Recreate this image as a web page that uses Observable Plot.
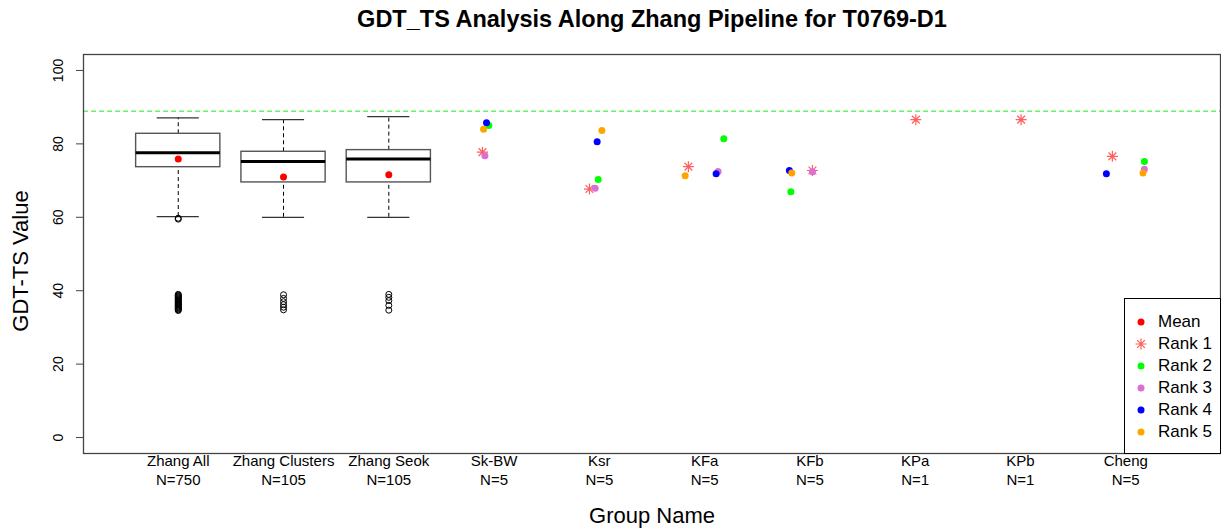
<!DOCTYPE html>
<html>
<head>
<meta charset="utf-8">
<script src="https://cdn.jsdelivr.net/npm/d3@7"></script>
<script src="https://cdn.jsdelivr.net/npm/@observablehq/plot@0.6"></script>
<style>
  body { margin: 0; background: #fff; font-family: "Liberation Sans", Arial, sans-serif; }
  #chart { position: relative; width: 1221px; height: 529px; }
  .legend { position: absolute; left: 1124px; top: 298px; width: 97px; height: 156px;
            border: 1px solid #000; background: #fff; box-sizing: border-box; }
  .legend .item { position: absolute; left: 0; height: 22px; display: flex; align-items: center; }
  .legend svg { margin-left: 8px; }
  .legend span { margin-left: 9px; font-size: 17px; color: #000; }
</style>
</head>
<body>
<div id="chart"></div>
<script>
// Groups along the pipeline and their sample counts
const groups = ["Zhang All", "Zhang Clusters", "Zhang Seok", "Sk-BW", "Ksr", "KFa", "KFb", "KPa", "KPb", "Cheng"];
const counts = [750, 105, 105, 5, 5, 5, 5, 1, 1, 5];

// Box statistics for the three Zhang groups
const boxQ1 = [73.65, 69.5, 69.5];
const boxMedian = [77.6, 75.2, 75.9];
const boxQ3 = [82.75, 77.85, 78.3];
const whiskerLow = [60.2, 60.0, 60.0];
const whiskerHigh = [87.1, 86.6, 87.4];
const groupMeans = [75.9, 71.0, 71.6];

// Outlying GDT-TS values
const outliersAll = [59.75, 59.5, 39.0, 38.8, 38.6, 38.4, 38.2, 38.0, 37.8, 37.6, 37.4, 37.2, 37.0,
                     36.8, 36.6, 36.4, 36.2, 36.0, 35.8, 35.6, 35.4, 35.2, 35.0, 34.8, 34.6];
const outliersClusters = [38.9, 37.9, 37.0, 36.2, 35.5, 34.8];
const outliersSeok = [39.0, 38.2, 37.3, 36.0, 34.7];

// Top-ranked models of the other groups
const rankGroups = ["Sk-BW", "Ksr", "KFa", "KFb", "KPa", "KPb", "Cheng"];
const rank1 = [77.75, 67.7, 73.8, 72.75, 86.6, 86.6, 76.6];
const rank2 = [85.0, 70.3, 81.4, 66.95, null, null, 75.2];
const rank3 = [76.75, 67.9, 72.5, 72.4, null, null, 73.1];
const rank4 = [85.75, 80.6, 71.85, 72.75, null, null, 71.85];
const rank5 = [84.0, 83.65, 71.3, 72.1, null, null, 72.1];
// horizontal jitter (in group units) applied to each rank's points
const jitter1 = [-0.11, -0.094, -0.154, 0.024, 0.006, 0.006, -0.127];
const jitter2 = [-0.05, -0.011, 0.182, -0.181, 0, 0, 0.177];
const jitter3 = [-0.087, -0.04, 0.128, 0.024, 0, 0, 0.177];
const jitter4 = [-0.072, -0.021, 0.109, -0.195, 0, 0, -0.184];
const jitter5 = [-0.10, 0.024, -0.185, -0.172, 0, 0, 0.164];

// Best GDT-TS reference level
const bestLevel = [88.9];

const yTicks = [0, 20, 40, 60, 80, 100];
const rankNames = ["Rank 1", "Rank 2", "Rank 3", "Rank 4", "Rank 5"];
const rankColors = ["#ff5f5f", "#00ff00", "#da70d6", "#0000ff", "#ffa500"];
const meanColor = "#ff0000";

// ---- derived tables ----
const positions = groups.map((g, i) => i + 1);
const boxes = boxQ1.map((q1, i) => ({
  x: i + 1, q1, med: boxMedian[i], q3: boxQ3[i], lo: whiskerLow[i], hi: whiskerHigh[i], mean: groupMeans[i]
}));
const outliers = [outliersAll, outliersClusters, outliersSeok]
  .flatMap((vals, i) => vals.map(v => ({x: i + 1, y: v})));
const rankValues = [rank1, rank2, rank3, rank4, rank5];
const rankJitter = [jitter1, jitter2, jitter3, jitter4, jitter5];
const rankPoints = rankValues.map((vals, r) => vals
  .map((v, j) => v == null ? null : ({x: groups.indexOf(rankGroups[j]) + 1 + rankJitter[r][j], y: v}))
  .filter(d => d));

// R-style eight-spoke asterisk
const asterisk = {
  draw(ctx, size) {
    const r = Math.sqrt(size / Math.PI), d = r * Math.SQRT1_2;
    ctx.moveTo(-r, 0); ctx.lineTo(r, 0);
    ctx.moveTo(0, -r); ctx.lineTo(0, r);
    ctx.moveTo(-d, -d); ctx.lineTo(d, d);
    ctx.moveTo(-d, d); ctx.lineTo(d, -d);
  }
};

const half = 0.4, cap = 0.2;

const plot = Plot.plot({
  width: 1221,
  height: 529,
  marginTop: 54,
  marginBottom: 76,
  marginLeft: 83,
  marginRight: 1,
  style: {fontFamily: "'Liberation Sans', Arial, sans-serif", fontSize: "15px", color: "#000", background: "#fff"},
  x: {domain: [0.1, 10.9], axis: null},
  y: {domain: [-4.35, 104.35], axis: null},
  marks: [
    Plot.ruleY(bestLevel, {stroke: "#6ef06e", strokeWidth: 1.6, strokeDasharray: "5,3"}),
    // whiskers
    Plot.ruleX(boxes, {x: "x", y1: "q3", y2: "hi", stroke: "#000", strokeDasharray: "4,3"}),
    Plot.ruleX(boxes, {x: "x", y1: "lo", y2: "q1", stroke: "#000", strokeDasharray: "4,3"}),
    Plot.ruleY(boxes, {y: "hi", x1: d => d.x - cap, x2: d => d.x + cap, stroke: "#333", strokeWidth: 1.3}),
    Plot.ruleY(boxes, {y: "lo", x1: d => d.x - cap, x2: d => d.x + cap, stroke: "#333", strokeWidth: 1.3}),
    // boxes and medians
    Plot.rect(boxes, {x1: d => d.x - half, x2: d => d.x + half, y1: "q1", y2: "q3", fill: "#fff", stroke: "#555", strokeWidth: 1.4}),
    Plot.ruleY(boxes, {y: "med", x1: d => d.x - half, x2: d => d.x + half, stroke: "#000", strokeWidth: 3}),
    Plot.dot(outliers, {x: "x", y: "y", r: 3, stroke: "#000", fill: "none", strokeWidth: 1}),
    Plot.dot(boxes, {x: "x", y: "mean", r: 3.5, fill: meanColor, stroke: "none"}),
    // ranked models
    Plot.dot(rankPoints[0], {x: "x", y: "y", r: 5.5, symbol: asterisk, stroke: rankColors[0], fill: "none", strokeWidth: 1.2}),
    ...rankPoints.slice(1).map((pts, i) =>
      Plot.dot(pts, {x: "x", y: "y", r: 3.5, fill: rankColors[i + 1], stroke: "none"})),
    Plot.frame({stroke: "#444", strokeWidth: 1.3}),
    Plot.axisX(positions, {
      tickSize: 0, tickPadding: -1, fontSize: 15, lineHeight: 19 / 15, label: null,
      tickFormat: i => `${groups[i - 1]}\nN=${counts[i - 1]}`
    }),
    Plot.axisY(yTicks, {tickSize: 7, tickPadding: 14, tickRotate: -90, fontSize: 14, label: null, stroke: "#444"}),
    Plot.text(["GDT_TS Analysis Along Zhang Pipeline for T0769-D1"],
      {frameAnchor: "top", dy: -44, fontSize: 23.5, fontWeight: "bold"}),
    Plot.text(["Group Name"], {frameAnchor: "bottom", dy: 69, fontSize: 22}),
    Plot.text(["GDT-TS Value"], {frameAnchor: "left", textAnchor: "middle", dx: -63, dy: 7, rotate: -90, fontSize: 22})
  ]
});

const chart = document.getElementById("chart");
chart.appendChild(plot);

// Legend box in the lower-right corner of the panel
const legend = document.createElement("div");
legend.className = "legend";
const entries = [{name: "Mean", color: meanColor, star: false}]
  .concat(rankNames.map((n, i) => ({name: n, color: rankColors[i], star: i === 0})));
entries.forEach((e, i) => {
  const item = document.createElement("div");
  item.className = "item";
  item.style.top = (12 + i * 21.9) + "px";
  const svg = d3.create("svg").attr("width", 16).attr("height", 16);
  if (e.star) {
    svg.append("path").attr("transform", "translate(8,8)")
      .attr("d", d3.symbol(asterisk, 5.5 * 5.5 * Math.PI)())
      .attr("stroke", e.color).attr("stroke-width", 1.2).attr("fill", "none");
  } else {
    svg.append("circle").attr("cx", 8).attr("cy", 8).attr("r", 3.5).attr("fill", e.color);
  }
  item.appendChild(svg.node());
  const label = document.createElement("span");
  label.textContent = e.name;
  item.appendChild(label);
  legend.appendChild(item);
});
chart.appendChild(legend);
</script>
</body>
</html>
